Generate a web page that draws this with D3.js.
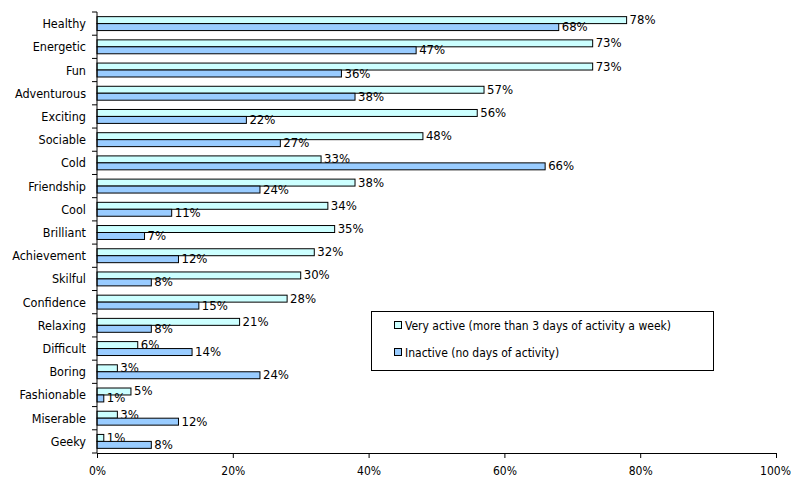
<!DOCTYPE html>
<html>
<head>
<meta charset="utf-8">
<script src="https://cdn.jsdelivr.net/npm/d3@7"></script>
<style>
  body { margin: 0; background: #fff; }
  svg text { font-family: "DejaVu Sans Condensed", "DejaVu Sans", sans-serif; font-size: 12px; fill: #000; }
  svg text.val { font-size: 13px; }
  svg text.cat { font-size: 12.5px; }
</style>
</head>
<body>
<svg id="chart" width="791" height="483"></svg>
<script>
const categories = ["Healthy","Energetic","Fun","Adventurous","Exciting","Sociable","Cold","Friendship","Cool","Brilliant","Achievement","Skilful","Confidence","Relaxing","Difficult","Boring","Fashionable","Miserable","Geeky"];
const veryActive = [78,73,73,57,56,48,33,38,34,35,32,30,28,21,6,3,5,3,1];
const inactive   = [68,47,36,38,22,27,66,24,11,7,12,8,15,8,14,24,1,12,8];
const seriesNames = ["Very active (more than 3 days of activity a week)", "Inactive (no days of activity)"];
const seriesColors = ["#CCFFFF", "#99CCFF"];
const xTicks = [0,20,40,60,80,100];

const svg = d3.select("#chart");
const pLeft = 97, pRight = 776, pTop = 12, pBottom = 453;

const x = d3.scaleLinear().domain([0,100]).range([pLeft, pRight]);
const y = d3.scaleBand().domain(categories).range([pTop, pBottom]).paddingInner(0.4).paddingOuter(0.2);
const sub = d3.scaleBand().domain([0,1]).range([0, y.bandwidth()]);

const data = categories.map((c,i) => ({cat: c, vals: [veryActive[i], inactive[i]]}));

const g = svg.append("g");
data.forEach(d => {
  d.vals.forEach((v, s) => {
    const yy = y(d.cat) + sub(s);
    g.append("rect")
      .attr("x", x(0)).attr("y", yy)
      .attr("width", x(v) - x(0)).attr("height", sub.bandwidth())
      .attr("fill", seriesColors[s]).attr("stroke", "#000").attr("stroke-width", 1);
    g.append("text").attr("class", "val")
      .attr("x", x(v) + 3).attr("y", yy + sub.bandwidth()/2 + 0.5)
      .attr("dominant-baseline", "middle")
      .text(v + "%");
  });
});

// Y axis
svg.append("line").attr("x1", pLeft).attr("x2", pLeft).attr("y1", pTop).attr("y2", pBottom).attr("stroke", "#000");
for (let i = 0; i <= categories.length; i++) {
  const ty = pTop + i * (pBottom - pTop) / categories.length;
  svg.append("line").attr("x1", pLeft - 5).attr("x2", pLeft).attr("y1", ty).attr("y2", ty).attr("stroke", "#000");
}
categories.forEach(c => {
  svg.append("text").attr("class", "cat").attr("x", 86).attr("y", y(c) + y.bandwidth()/2 + 1)
    .attr("dominant-baseline", "middle").attr("text-anchor", "end").text(c);
});

// X axis
const xAxis = d3.axisBottom(x).tickValues(xTicks).tickFormat(d => d + "%").tickSize(5).tickPadding(8);
const xa = svg.append("g").attr("transform", `translate(0,${pBottom})`).call(xAxis);
xa.attr("font-family", null).attr("font-size", null);
xa.select(".domain").attr("d", `M${pLeft},0.5H${pRight}`).attr("stroke", "#000");
xa.selectAll(".tick line").attr("stroke", "#000");
xa.selectAll(".tick text").filter(d => d === 100).attr("dx", -1);

// Legend
const lg = svg.append("g");
lg.append("rect").attr("x", 371.5).attr("y", 311.5).attr("width", 342).attr("height", 59)
  .attr("fill", "#fff").attr("stroke", "#000");
seriesNames.forEach((n, i) => {
  const cy = 325 + i * 27;
  lg.append("rect").attr("x", 394.5).attr("y", cy - 3.5).attr("width", 7).attr("height", 7)
    .attr("fill", seriesColors[i]).attr("stroke", "#000");
  lg.append("text").attr("x", 405).attr("y", cy + 1).attr("dominant-baseline", "middle").text(n);
});
</script>
</body>
</html>
